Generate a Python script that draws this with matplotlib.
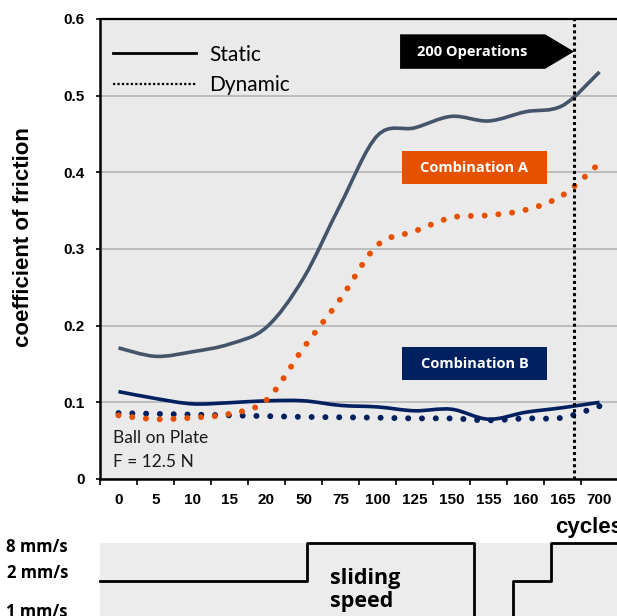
import matplotlib
matplotlib.use("Agg")
import matplotlib.pyplot as plt
import numpy as np
from matplotlib.path import Path
from matplotlib.patches import PathPatch, Polygon, Rectangle
from matplotlib.lines import Line2D

# cycles (categorical axis)
cycles = ["0", "5", "10", "15", "20", "50", "75", "100", "125", "150", "155", "160", "165", "700"]

# coefficient of friction
a_static = [0.171, 0.160, 0.166, 0.176, 0.198, 0.262, 0.358, 0.448, 0.458, 0.473, 0.467, 0.479, 0.487, 0.531]
a_dynamic = [0.083, 0.078, 0.080, 0.085, 0.103, 0.171, 0.235, 0.305, 0.323, 0.341, 0.344, 0.351, 0.370, 0.412]
b_static = [0.114, 0.105, 0.098, 0.0995, 0.102, 0.102, 0.096, 0.094, 0.089, 0.091, 0.078, 0.087, 0.093, 0.100]
b_dynamic = [0.086, 0.085, 0.084, 0.083, 0.082, 0.081, 0.0805, 0.080, 0.079, 0.079, 0.0765, 0.079, 0.080, 0.095]

# "200 Operations" marker, in category units
ops_mark = 12.31

# sliding speed program (category units where the speed changes)
speed_levels = ["1 mm/s", "2 mm/s", "8 mm/s"]
speed_edges = [-0.5, 5.1, 9.62, 10.65, 11.68, 13.5]
speed_values = ["2 mm/s", "8 mm/s", "1 mm/s", "2 mm/s", "8 mm/s"]

SLATE = "#44546A"
ORANGE = "#E65100"
NAVY = "#002060"
PANEL = "#EAEAEA"
CAL = "Lato"
CAL_BOLD = "Open Sans"
ARIAL = "Liberation Sans"


def smooth_path(y):
    # Bezier path through the points (like Excel's "smoothed line")
    x = np.arange(len(y), dtype=float)
    y = np.asarray(y, dtype=float)
    px = np.r_[x[0], x, x[-1]]
    py = np.r_[y[0], y, y[-1]]
    verts = [(x[0], y[0])]
    codes = [Path.MOVETO]
    for i in range(len(x) - 1):
        c1 = (x[i] + (px[i + 2] - px[i]) / 6, y[i] + (py[i + 2] - py[i]) / 6)
        c2 = (x[i + 1] - (px[i + 3] - px[i + 1]) / 6, y[i + 1] - (py[i + 3] - py[i + 1]) / 6)
        verts += [c1, c2, (x[i + 1], y[i + 1])]
        codes += [Path.CURVE4] * 3
    return Path(verts, codes)


fig = plt.figure(figsize=(6.17, 6.16), dpi=100)
ax = fig.add_axes([100 / 617, 1 - 479 / 616, 518 / 617, 460 / 616])
ax.set_facecolor(PANEL)

n = len(cycles)
ax.set_xlim(-0.5, n - 0.5)
ax.set_ylim(0, 0.6)

# grid
ax.set_yticks(np.arange(0, 0.61, 0.1))
ax.set_yticklabels(["0", "0.1", "0.2", "0.3", "0.4", "0.5", "0.6"])
ax.grid(axis="y", color="#b0b0b0", lw=1.1)
ax.set_axisbelow(True)

# x ticks: marks between categories, labels at the centres
ax.set_xticks(np.arange(-0.5, n, 1.0))
ax.set_xticklabels([])
ax.set_xticks(np.arange(n), minor=True)
ax.set_xticklabels(cycles, minor=True)
ax.tick_params(axis="x", which="major", length=4, width=1.2, direction="out")
ax.tick_params(axis="x", which="minor", length=0, pad=10)
ax.tick_params(axis="y", length=3, width=1.2, pad=8)
for lab in ax.get_xticklabels(minor=True) + ax.get_yticklabels():
    lab.set_fontfamily(ARIAL)
    lab.set_fontweight("bold")
    lab.set_fontsize(11)

for s in ["left", "bottom"]:
    ax.spines[s].set_linewidth(1.8)
ax.spines["top"].set_linewidth(1.6)
ax.spines["right"].set_visible(False)

# curves
ax.add_patch(PathPatch(smooth_path(b_dynamic), fill=False, edgecolor=NAVY, lw=4.3,
                       linestyle=(0, (0.01, 2.3)), capstyle="round", zorder=3))
ax.add_patch(PathPatch(smooth_path(b_static), fill=False, edgecolor=NAVY, lw=2.6, zorder=3))
ax.add_patch(PathPatch(smooth_path(a_static), fill=False, edgecolor=SLATE, lw=2.6, zorder=3))
ax.add_patch(PathPatch(smooth_path(a_dynamic), fill=False, edgecolor=ORANGE, lw=4.3,
                       linestyle=(0, (0.01, 2.3)), capstyle="round", zorder=4))

ax.axvline(ops_mark, color="black", lw=2.2, linestyle=(0, (1, 1)), zorder=5)

# "200 Operations" arrow box pointing at the marker
ax.add_patch(Polygon([(ops_mark - 4.7, 0.580), (ops_mark - 0.78, 0.580), (ops_mark, 0.5575),
                      (ops_mark - 0.78, 0.535), (ops_mark - 4.7, 0.535)],
                     closed=True, facecolor="black", edgecolor="none", zorder=6))
ax.text(ops_mark - 2.74, 0.5575, "200 Operations", color="white", fontsize=10.5,
        fontweight="bold", family=CAL_BOLD, ha="center", va="center", zorder=7)

for label, color, y0, y1 in [("Combination A", ORANGE, 0.3848, 0.4278),
                             ("Combination B", NAVY, 0.1291, 0.1722)]:
    ax.add_patch(Rectangle((7.66, y0), 3.92, y1 - y0, facecolor=color, edgecolor="none", zorder=6))
    ax.text(9.62, (y0 + y1) / 2, label, color="white", fontsize=10.5, fontweight="bold",
            family=CAL_BOLD, ha="center", va="center", zorder=7)

ax.text(0.025, 0.089, "Ball on Plate", transform=ax.transAxes, fontsize=12.5,
        family=CAL, ha="left", va="center", color="#1a1a1a")
ax.text(0.025, 0.037, "F = 12.5 N", transform=ax.transAxes, fontsize=12.5,
        family=CAL, ha="left", va="center", color="#1a1a1a")

handles = [Line2D([], [], color="black", lw=2.0),
           Line2D([], [], color="black", lw=1.6, linestyle=(0, (1, 1)))]
leg = ax.legend(handles, ["Static", "Dynamic"], loc="upper left",
                bbox_to_anchor=(0.025, 0.944), frameon=False, borderpad=0,
                borderaxespad=0, handlelength=4.0, handletextpad=0.6,
                labelspacing=0.5, prop={"family": CAL, "size": 15})

fig.text(24 / 617, 1 - 237.5 / 616, "coefficient of friction", rotation=90,
         ha="center", va="center", fontsize=16, fontweight="bold", family=ARIAL)
fig.text(555 / 617, 1 - 533 / 616, "cycles", ha="left", va="baseline",
         fontsize=16, fontweight="bold", family=ARIAL)

# sliding speed panel
ax2 = fig.add_axes([100 / 617, 1 - 634 / 616, 518 / 617, 91 / 616])
ax2.set_facecolor("#ECECEC")
ax2.set_xlim(-0.5, n - 0.5)
ax2.set_ylim(-0.4, 2.0)
for s in ax2.spines.values():
    s.set_visible(False)
ax2.set_xticks([])
ax2.set_yticks([])
levels = [speed_levels.index(v) for v in speed_values]
ax2.step(speed_edges, levels + [levels[-1]], where="post", color="black",
         lw=2.0, clip_on=False)

for lab, ypx in zip(speed_levels, [612, 573, 547]):
    fig.text(68 / 617, 1 - ypx / 616, lab, ha="right", va="center", fontsize=12,
             fontweight="bold", family=CAL_BOLD)

fig.text(330 / 617, 1 - 590 / 616, "sliding\nspeed", ha="left", va="center",
         fontsize=15.5, fontweight="bold", family=CAL_BOLD, linespacing=1.15)

fig.savefig("out.png", dpi=100)
